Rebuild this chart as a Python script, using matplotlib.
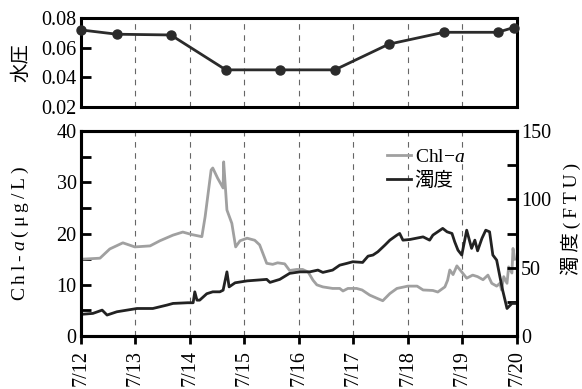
import matplotlib.pyplot as plt
from matplotlib.ticker import MultipleLocator

plt.rcParams['font.family'] = ['Liberation Serif', 'Noto Sans CJK JP']
plt.rcParams['mathtext.fontset'] = 'custom'
plt.rcParams['mathtext.it'] = 'Liberation Serif:italic'
plt.rcParams['mathtext.rm'] = 'Liberation Serif'

# days since 7/12 00:00
day_labels = ['7/12', '7/13', '7/14', '7/15', '7/16', '7/17', '7/18', '7/19', '7/20']

# water pressure
wp_t = [0.0, 0.66, 1.65, 2.66, 3.65, 4.66, 5.65, 6.66, 7.65, 7.94]
wp_v = [0.0719, 0.069, 0.0685, 0.045, 0.045, 0.045, 0.0623, 0.0703, 0.0703, 0.0735]

# Chl-a (ug/L)
chl_t = [0.00, 0.35, 0.53, 0.77, 0.99, 1.27, 1.45, 1.69, 1.87, 2.04, 2.22, 2.28,
         2.39, 2.42, 2.51, 2.61, 2.62, 2.68, 2.77, 2.84, 2.92, 3.05, 3.19, 3.28,
         3.41, 3.52, 3.61, 3.74, 3.83, 3.96, 4.07, 4.17, 4.26, 4.33, 4.44, 4.62,
         4.75, 4.81, 4.90, 5.06, 5.16, 5.30, 5.45, 5.54, 5.67, 5.80, 6.00, 6.17,
         6.28, 6.46, 6.55, 6.68, 6.73, 6.77, 6.83, 6.90, 6.99, 7.08, 7.19, 7.28,
         7.38, 7.47, 7.54, 7.63, 7.69, 7.72, 7.76, 7.82, 7.85, 7.91, 7.93, 7.96]
chl_v = [15.0, 15.2, 17.0, 18.2, 17.4, 17.6, 18.6, 19.7, 20.3, 19.8, 19.4, 23.3,
         32.4, 32.8, 30.8, 28.9, 34.0, 24.6, 22.0, 17.4, 18.6, 19.1, 18.7, 17.8,
         14.2, 14.0, 14.3, 14.1, 12.8, 13.0, 13.0, 12.5, 10.9, 10.0, 9.6, 9.3,
         9.3, 8.8, 9.3, 9.3, 9.0, 8.0, 7.3, 6.9, 8.3, 9.3, 9.75, 9.75,
         9.0, 8.9, 8.6, 9.6, 10.9, 12.9, 12.0, 13.7, 12.5, 11.3, 11.9, 11.6,
         11.0, 11.9, 10.3, 9.75, 10.3, 9.0, 11.6, 10.3, 13.5, 12.3, 17.1, 15.0]

# turbidity (FTU)
tur_t = [0.00, 0.22, 0.39, 0.48, 0.66, 1.03, 1.32, 1.58, 1.69, 1.96, 2.06, 2.09,
         2.13, 2.18, 2.31, 2.42, 2.55, 2.61, 2.68, 2.72, 2.83, 3.05, 3.41, 3.47,
         3.65, 3.83, 4.02, 4.20, 4.35, 4.44, 4.62, 4.75, 4.88, 4.99, 5.17, 5.27,
         5.36, 5.45, 5.58, 5.67, 5.80, 5.85, 5.91, 6.04, 6.28, 6.40, 6.46, 6.64,
         6.72, 6.81, 6.86, 6.92, 6.99, 7.08, 7.17, 7.23, 7.28, 7.36, 7.43, 7.50,
         7.56, 7.63, 7.69, 7.74, 7.82, 7.91, 7.96]
tur_v = [15.9, 16.6, 19.0, 15.4, 17.8, 20.2, 20.2, 22.7, 23.9, 24.4, 24.4, 32.4,
         26.3, 26.3, 31.0, 32.4, 32.4, 33.6, 47.0, 36.0, 39.0, 40.4, 41.5, 39.3,
         41.5, 45.9, 47.0, 47.0, 48.3, 46.6, 48.3, 51.9, 53.2, 54.4, 53.9, 58.5,
         59.3, 61.7, 66.6, 70.2, 73.9, 75.1, 70.2, 70.7, 72.6, 70.2, 73.9, 78.8,
         76.3, 75.1, 69.0, 62.9, 59.3, 77.5, 64.2, 70.2, 62.4, 71.5, 77.5, 76.3,
         59.3, 55.6, 43.4, 33.6, 20.2, 23.9, 23.9]

fig = plt.figure(figsize=(5.82, 3.89), dpi=100)
ax1 = fig.add_axes([0.139, 0.725, 0.749, 0.229])
ax2 = fig.add_axes([0.139, 0.136, 0.749, 0.527])
ax3 = ax2.twinx()

dash = dict(color='#666666', linewidth=0.8, linestyle=(0, (5, 5)), zorder=0)
for d in range(1, 8):
    ax1.axvline(d, **dash)
    ax2.axvline(d, **dash)

fs = 14.5
ts = '\u2009'  # thin space for the spaced-out axis labels

# top panel
ax1.plot(wp_t, wp_v, color='#2b2b2b', linewidth=2, marker='o', markersize=6.5,
         clip_on=False, zorder=3)
ax1.set_xlim(0, 8)
ax1.set_ylim(0.02, 0.08)
ax1.set_yticks([0.02, 0.04, 0.06, 0.08])
ax1.set_yticklabels(['0.02', '0.04', '0.06', '0.08'])
ax1.set_xticks([])
ax1.tick_params(axis='y', direction='in', length=7, width=2, labelsize=fs, pad=3)
ax1.set_ylabel('水圧', fontsize=14)
ax1.yaxis.set_label_coords(-0.115, 0.5)

# bottom panel
l1, = ax2.plot(chl_t, chl_v, color='#a0a0a0', linewidth=2)
l2, = ax3.plot(tur_t, tur_v, color='#222222', linewidth=2)
ax2.set_xlim(0, 8)
ax2.set_ylim(0, 40)
ax3.set_ylim(0, 150)
ax2.set_xticks(range(9))
ax2.set_xticklabels(day_labels, rotation=90, va='top')
ax2.set_yticks([0, 10, 20, 30, 40])
ax2.yaxis.set_minor_locator(MultipleLocator(5))
ax3.set_yticks([0, 50, 100, 150])
ax3.yaxis.set_minor_locator(MultipleLocator(25))
ax2.tick_params(axis='x', direction='out', length=6, width=2, labelsize=fs, pad=4)
ax2.tick_params(axis='y', which='both', direction='in', length=7, width=2,
                labelsize=fs, pad=3)
ax3.tick_params(axis='y', which='both', direction='in', length=7, width=2,
                labelsize=fs, pad=3)
ax2.set_ylabel(ts.join(['C', 'h', 'l', '-', '$a$', '(', 'μ', 'g', '/', 'L', ')']),
               fontsize=14)
ax2.yaxis.set_label_coords(-0.115, 0.5)
ax3.set_ylabel(ts.join(['濁', '度', '(', 'F', 'T', 'U', ')']), fontsize=14)
ax3.yaxis.set_label_coords(1.10, 0.57)

for ax in (ax1, ax2, ax3):
    for s in ax.spines.values():
        s.set_linewidth(2.2)

ax2.legend([l1, l2], ['Chl\u2212$a$', '濁度'], loc='upper left',
           bbox_to_anchor=(0.685, 0.955), frameon=False, fontsize=14,
           handlelength=1.2, handletextpad=0.2, labelspacing=0.3,
           borderaxespad=0)

fig.savefig('out.png', dpi=100)
